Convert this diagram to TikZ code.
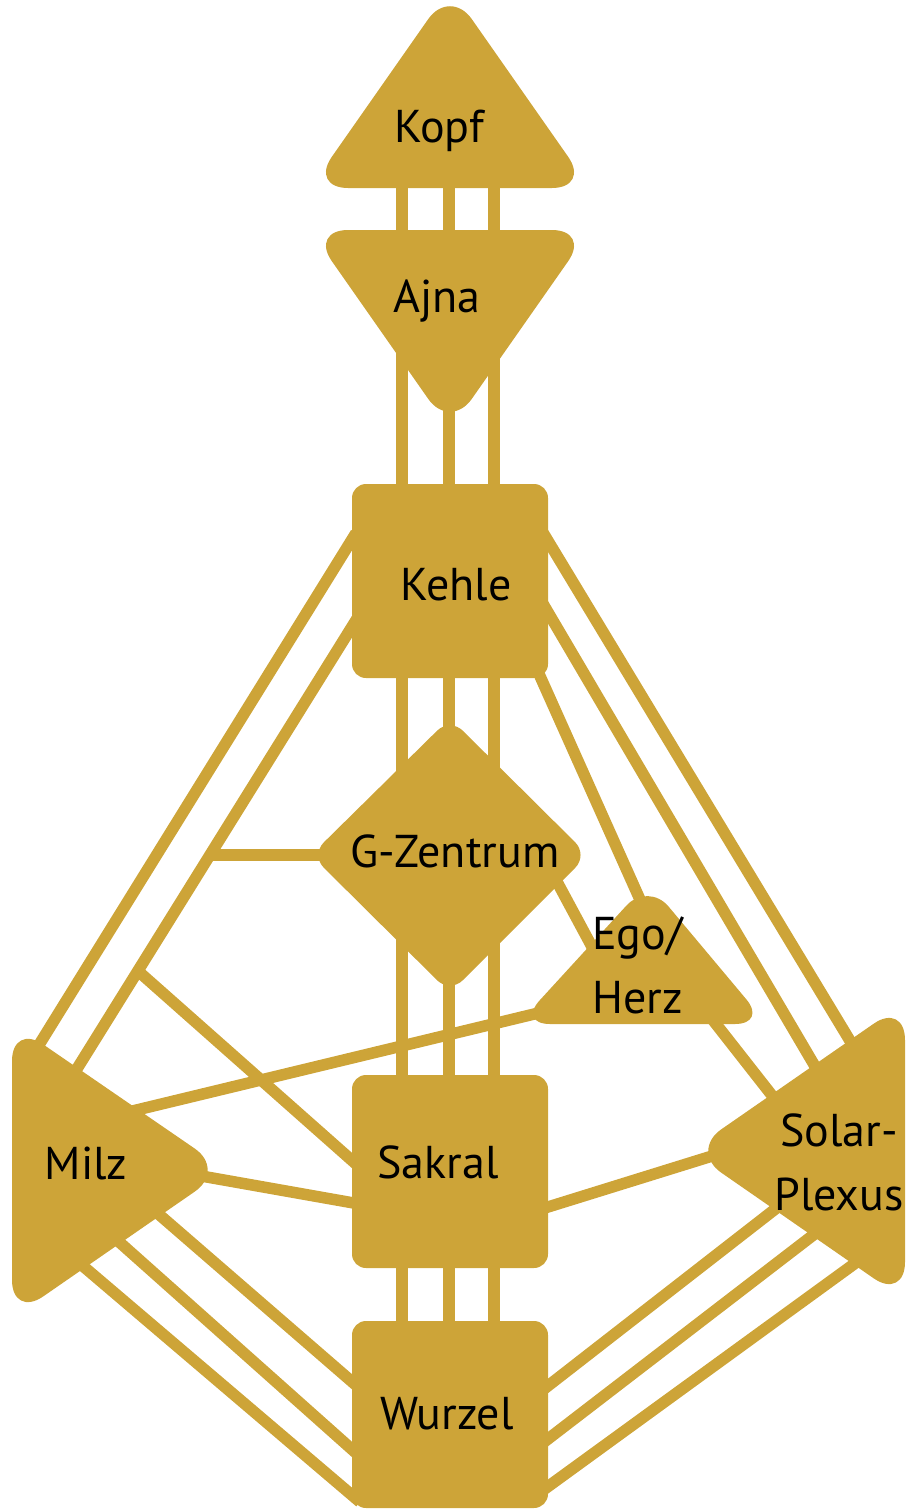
\documentclass[tikz,border=0pt]{standalone}
\usepackage{fontspec}
\setmainfont{PT Sans}
\usepackage{tikz}
\usepackage{xcolor}
\definecolor{hdgold}{RGB}{205,164,56}
\tikzstyle{zentrum} = [fill=hdgold, rounded corners=38pt]
\tikzstyle{kasten} = [fill=hdgold, rounded corners=14pt]
\tikzstyle{kanal} = [draw=hdgold, line width=11.5pt]
\tikzstyle{beschriftung} = [text=black, inner sep=0pt, font=\fontsize{46}{64}\selectfont]

\begin{document}
\begin{tikzpicture}[x=1pt, y=-1pt]
        \useasboundingbox (0,0) rectangle (906,1510);

        % Tore
        \coordinate (t64) at (402,150); \coordinate (t61) at (449,150); \coordinate (t63) at (494,150);
        \coordinate (t47) at (402,280); \coordinate (t24) at (449,280); \coordinate (t4) at (494,280);
        \coordinate (t17) at (402,330); \coordinate (t43) at (449,330); \coordinate (t11) at (494,330);
        \coordinate (t62) at (402,520); \coordinate (t23) at (449,520); \coordinate (t56) at (494,520);
        \coordinate (t31) at (402,650); \coordinate (t8) at (449,650); \coordinate (t33) at (494,650);
        \coordinate (t7) at (402,820); \coordinate (t1) at (449,760); \coordinate (t13) at (494,820);
        \coordinate (t15) at (402,890); \coordinate (t2) at (449,950); \coordinate (t46) at (494,890);
        \coordinate (t5) at (402,1100); \coordinate (t14) at (449,1100); \coordinate (t29) at (494,1100);
        \coordinate (t42) at (402,1245); \coordinate (t3) at (449,1245); \coordinate (t9) at (494,1245);
        \coordinate (t53) at (402,1345); \coordinate (t60) at (449,1345); \coordinate (t52) at (494,1345);
        \coordinate (t16) at (356,533); \coordinate (t48) at (29,1061);
        \coordinate (t20) at (358,617); \coordinate (t57) at (70,1080);
        \coordinate (t10) at (340,855); \coordinate (k10) at (210,855);
        \coordinate (k34) at (138,971); \coordinate (t34) at (365,1172);
        \coordinate (t50) at (190,1174); \coordinate (t27) at (365,1205);
        \coordinate (t44) at (120,1114); \coordinate (t26) at (555,1009);
        \coordinate (t32) at (140,1198); \coordinate (t54) at (365,1393);
        \coordinate (t28) at (108,1232); \coordinate (t38) at (365,1461);
        \coordinate (t18) at (70,1255); \coordinate (t58) at (360,1502);
        \coordinate (t35) at (539,526); \coordinate (t36) at (858,1054);
        \coordinate (t12) at (539,597); \coordinate (t22) at (826,1085);
        \coordinate (t45) at (531,656); \coordinate (t21) at (646,913);
        \coordinate (t25) at (548,865); \coordinate (t51) at (598,958);
        \coordinate (t40) at (705,1010); \coordinate (t37) at (785,1112);
        \coordinate (t59) at (535,1211); \coordinate (t6) at (725,1152);
        \coordinate (t19) at (535,1396); \coordinate (t49) at (792,1196);
        \coordinate (t39) at (535,1449); \coordinate (t55) at (825,1226);
        \coordinate (t41) at (535,1496); \coordinate (t30) at (872,1251);

        % Kanaele
        \draw [kanal] (t64) -- (t47);
        \draw [kanal] (t61) -- (t24);
        \draw [kanal] (t63) -- (t4);
        \draw [kanal] (t17) -- (t62);
        \draw [kanal] (t43) -- (t23);
        \draw [kanal] (t11) -- (t56);
        \draw [kanal] (t31) -- (t7);
        \draw [kanal] (t8) -- (t1);
        \draw [kanal] (t33) -- (t13);
        \draw [kanal] (t15) -- (t5);
        \draw [kanal] (t2) -- (t14);
        \draw [kanal] (t46) -- (t29);
        \draw [kanal] (t42) -- (t53);
        \draw [kanal] (t3) -- (t60);
        \draw [kanal] (t9) -- (t52);
        \draw [kanal] (t16) -- (t48);
        \draw [kanal] (t20) -- (t57);
        \draw [kanal] (t10) -- (k10);
        \draw [kanal] (k34) -- (t34);
        \draw [kanal] (t50) -- (t27);
        \draw [kanal] (t44) -- (t26);
        \draw [kanal] (t32) -- (t54);
        \draw [kanal] (t28) -- (t38);
        \draw [kanal] (t18) -- (t58);
        \draw [kanal] (t35) -- (t36);
        \draw [kanal] (t12) -- (t22);
        \draw [kanal] (t45) -- (t21);
        \draw [kanal] (t25) -- (t51);
        \draw [kanal] (t40) -- (t37);
        \draw [kanal] (t59) -- (t6);
        \draw [kanal] (t19) -- (t49);
        \draw [kanal] (t39) -- (t55);
        \draw [kanal] (t41) -- (t30);

        % Zentren
        \fill [zentrum] (450,-12) -- (590,188) -- (310,188) -- cycle;
        \fill [zentrum] (310,230) -- (590,230) -- (450,430) -- cycle;
        \fill [kasten] (352,484) rectangle (548,678);
        \fill [zentrum, rounded corners=18pt] (450,718) -- (588,855) -- (450,993) -- (311,855) -- cycle;
        \fill [zentrum, rounded corners=32pt] (648,882) -- (767,1024) -- (518,1024) -- cycle;
        \fill [kasten] (352,1075) rectangle (548,1268);
        \fill [kasten] (352,1321) rectangle (548,1508);
        \fill [zentrum] (12,1023) -- (226,1170) -- (12,1318) -- cycle;
        \fill [zentrum] (905,1002) -- (905,1300) -- (690,1151) -- cycle;

        \node (kopf) [beschriftung, anchor=base] at (439,142) {Kopf};
        \node (ajna) [beschriftung, anchor=base] at (437,312) {Ajna};
        \node (kehle) [beschriftung, anchor=base] at (456,600) {Kehle};
        \node (gzentrum) [beschriftung, anchor=base] at (455,867) {G-Zentrum};
        \node (ego) [beschriftung, anchor=base west, align=left] at (592,1013) {Ego/\\Herz};
        \node (milz) [beschriftung, anchor=base] at (86,1179) {Milz};
        \node (sakral) [beschriftung, anchor=base] at (438,1178) {Sakral};
        \node (solar) [beschriftung, anchor=base, align=center] at (839,1210) {Solar-\\Plexus};
        \node (wurzel) [beschriftung, anchor=base] at (447,1429) {Wurzel};
    \end{tikzpicture}
\end{document}
